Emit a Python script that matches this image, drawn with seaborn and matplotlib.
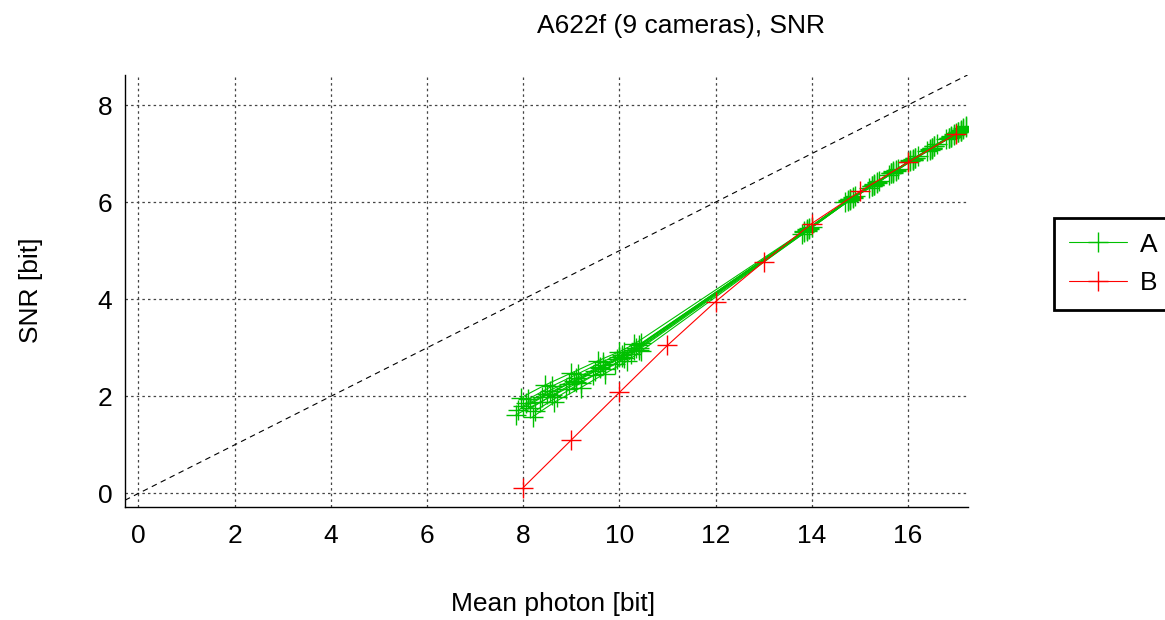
import matplotlib
matplotlib.use("Agg")
import matplotlib.pyplot as plt
import seaborn as sns
import pandas as pd
from matplotlib.lines import Line2D

# ---------------- data ----------------
title = "A622f (9 cameras), SNR"
x_label = "Mean photon [bit]"
y_label = "SNR [bit]"
x_ticks = [0, 2, 4, 6, 8, 10, 12, 14, 16]
y_ticks = [0, 2, 4, 6, 8]

# series B (reference)
b_mean = [8, 9, 10, 11, 12, 13, 14, 15, 16, 17]
b_snr = [0.12, 1.10, 2.08, 3.05, 3.95, 4.77, 5.56, 6.22, 6.82, 7.41]

# series A: 9 cameras
a_mean = [
    [7.90, 8.40, 8.95, 9.50, 9.95, 10.30, 13.85, 14.75, 15.25, 15.65, 16.05, 16.45, 16.85, 17.10],
    [7.85, 8.35, 8.90, 9.45, 9.90, 10.25, 13.80, 14.70, 15.20, 15.60, 16.00, 16.40, 16.80, 17.05],
    [8.00, 8.50, 9.05, 9.60, 10.00, 10.35, 13.90, 14.80, 15.30, 15.70, 16.10, 16.50, 16.90, 17.15],
    [8.05, 8.55, 9.10, 9.65, 10.05, 10.40, 13.95, 14.85, 15.35, 15.75, 16.15, 16.55, 16.95, 17.20],
    [8.10, 8.60, 9.15, 9.65, 10.10, 10.45, 13.90, 14.80, 15.30, 15.70, 16.10, 16.50, 16.90, 17.10],
    [7.95, 8.45, 9.00, 9.55, 10.00, 10.30, 13.85, 14.75, 15.25, 15.65, 16.05, 16.45, 16.85, 17.05],
    [8.20, 8.65, 9.20, 9.70, 10.15, 10.45, 14.00, 14.90, 15.40, 15.80, 16.20, 16.60, 17.00, 17.20],
    [8.15, 8.60, 9.10, 9.60, 10.05, 10.40, 13.95, 14.85, 15.35, 15.75, 16.15, 16.55, 16.95, 17.15],
    [8.25, 8.70, 9.20, 9.70, 10.10, 10.40, 13.90, 14.80, 15.30, 15.70, 16.10, 16.50, 16.90, 17.10],
]
a_snr = [
    [1.72, 1.98, 2.26, 2.52, 2.76, 2.96, 5.38, 6.03, 6.34, 6.60, 6.86, 7.08, 7.32, 7.46],
    [1.62, 1.88, 2.16, 2.43, 2.66, 2.88, 5.35, 6.00, 6.30, 6.56, 6.82, 7.06, 7.30, 7.44],
    [1.80, 2.05, 2.32, 2.60, 2.80, 3.00, 5.44, 6.07, 6.38, 6.64, 6.88, 7.12, 7.36, 7.52],
    [1.86, 2.12, 2.38, 2.64, 2.86, 3.05, 5.47, 6.10, 6.41, 6.67, 6.92, 7.16, 7.40, 7.55],
    [1.94, 2.21, 2.47, 2.71, 2.92, 3.09, 5.42, 6.06, 6.36, 6.62, 6.87, 7.12, 7.35, 7.48],
    [1.97, 2.23, 2.48, 2.73, 2.92, 3.07, 5.41, 6.04, 6.34, 6.61, 6.85, 7.10, 7.33, 7.45],
    [1.58, 1.88, 2.18, 2.47, 2.72, 2.93, 5.48, 6.12, 6.43, 6.69, 6.95, 7.20, 7.42, 7.56],
    [1.75, 2.02, 2.30, 2.58, 2.80, 3.00, 5.45, 6.08, 6.39, 6.65, 6.90, 7.15, 7.38, 7.50],
    [1.70, 1.98, 2.28, 2.56, 2.78, 2.96, 5.40, 6.05, 6.35, 6.61, 6.86, 7.10, 7.34, 7.47],
]

series_names = ["A", "B"]
colors = {"A": "#00c000", "B": "#ff0000"}

# ---------------- build table ----------------
rows = []
for ci, (xs, ys) in enumerate(zip(a_mean, a_snr)):
    for xv, yv in zip(xs, ys):
        rows.append({"series": "A", "unit": f"A{ci}", "mean": xv, "snr": yv})
for xv, yv in zip(b_mean, b_snr):
    rows.append({"series": "B", "unit": "B0", "mean": xv, "snr": yv})
df = pd.DataFrame(rows)

# ---------------- style ----------------
sns.set_theme(style="white")
plt.rcParams["font.family"] = ["Liberation Sans", "DejaVu Sans"]
plt.rcParams["text.color"] = "black"
plt.rcParams["axes.labelcolor"] = "black"
FS = 19

fig = plt.figure(figsize=(11.65, 6.2), dpi=100)
ax = fig.add_axes([125 / 1165, 1 - 507 / 620, (968 - 125) / 1165, (507 - 75) / 620])

# ideal reference line SNR = mean / 2
ax.axline((0, 0), slope=0.5, color="black", lw=0.8, ls=(0, (5, 4)), zorder=1)

sns.lineplot(
    data=df, x="mean", y="snr", hue="series", units="unit", estimator=None,
    sort=False, palette=colors, hue_order=series_names, ax=ax, legend=False,
    marker="+", markersize=15, markeredgewidth=1.0, linewidth=0.8, zorder=3,
)
for ln in ax.lines[1:]:
    ln.set_markeredgecolor(ln.get_color())

ax.set_xlim(-0.28, 17.25)
ax.set_ylim(-0.28, 8.62)
ax.set_xticks(x_ticks)
ax.set_yticks(y_ticks)
ax.tick_params(axis="both", direction="in", length=11, width=1, color="#333333",
               labelsize=FS, labelcolor="black")
ax.tick_params(axis="x", pad=12)
ax.tick_params(axis="y", pad=9)

ax.grid(True, color="#444444", ls=(0, (2, 2.5)), lw=0.9)
for s in ["top", "right"]:
    ax.spines[s].set_visible(False)
for s in ["left", "bottom"]:
    ax.spines[s].set_color("black")
    ax.spines[s].set_linewidth(1.0)

ax.set_xlabel(x_label, fontsize=FS)
ax.set_ylabel(y_label, fontsize=FS)
ax.xaxis.set_label_coords((553 - 125) / 843, (507 - 592) / 432)
ax.yaxis.set_label_coords((43 - 125) / 843, (507 - 290) / 432)

fig.text(681 / 1165, 1 - 26 / 620, title, ha="center", va="center", fontsize=FS)

handles = [Line2D([], [], color=colors[n], marker="+", markersize=15,
                  markeredgewidth=1.0, lw=0.8) for n in series_names]
leg = fig.legend(handles, series_names, loc="upper left",
                 bbox_to_anchor=(1054 / 1165, 1 - 218 / 620),
                 bbox_transform=fig.transFigure, fontsize=FS, frameon=True,
                 fancybox=False, framealpha=1, edgecolor="black",
                 handlelength=2.2, handletextpad=0.5, borderpad=0.55,
                 labelspacing=0.55, borderaxespad=0)
leg.get_frame().set_linewidth(2.0)

fig.savefig("out.png", dpi=100)
